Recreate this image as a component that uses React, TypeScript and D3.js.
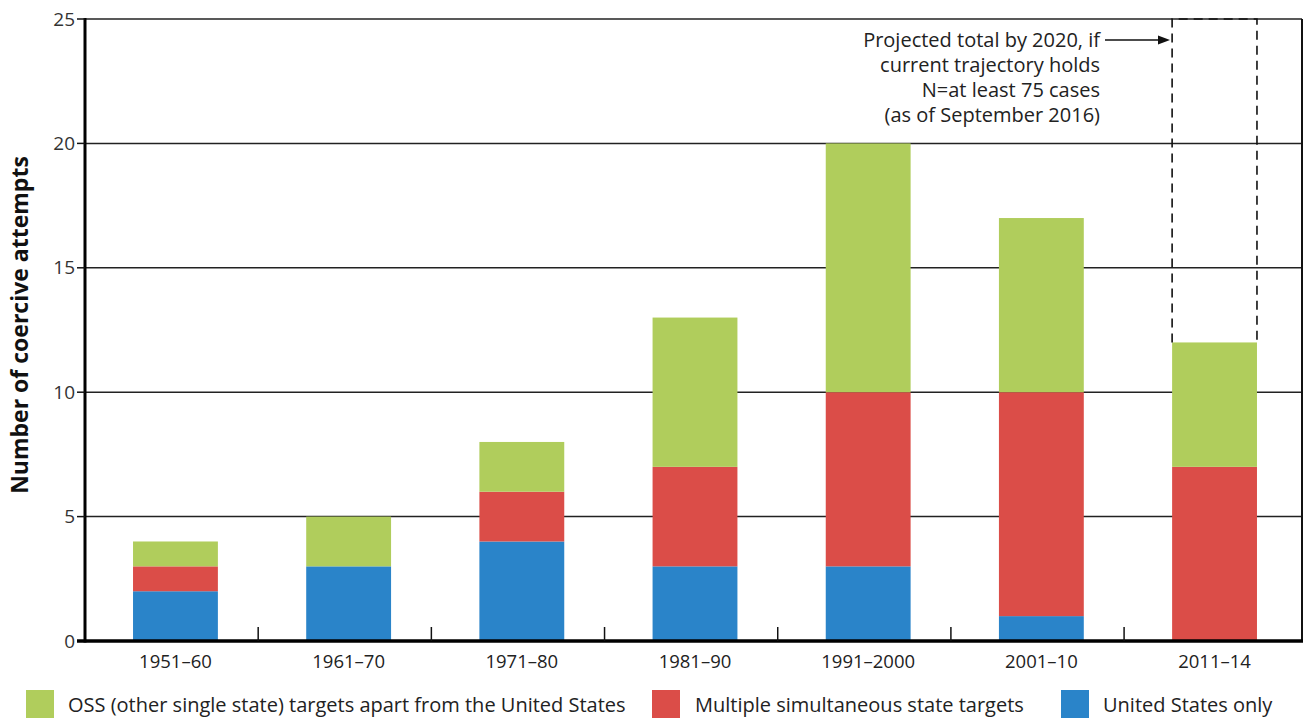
import React from "react";
import * as d3 from "d3";

const categories = ["1951–60", "1961–70", "1971–80", "1981–90", "1991–2000", "2001–10", "2011–14"];
const usOnly = [2, 3, 4, 3, 3, 1, 0];
const multiple = [1, 0, 2, 4, 7, 9, 7];
const oss = [1, 2, 2, 6, 10, 7, 5];
const yTicks = [0, 5, 10, 15, 20, 25];
const seriesNames = ["OSS (other single state) targets apart from the United States", "Multiple simultaneous state targets", "United States only"];
const projectedTotal = 25;
const projectedCategory = "2011–14";
const annotationLines = ["Projected total by 2020, if", "current trajectory holds", "N=at least 75 cases", "(as of September 2016)"];

const COLORS = { us: "#2a84c9", multi: "#db4d48", oss: "#b0cd5c" };
const FONT = "'Open Sans', 'Noto Sans', sans-serif";

export default function App() {
  const W = 1315, H = 718;
  const left = 85, right = 1302, top = 19, bottom = 641;
  const x = d3.scaleBand<string>().domain(categories).range([left + 3, right]).paddingInner(0.51).paddingOuter(0.26);
  const y = d3.scaleLinear().domain([0, 25]).range([bottom, top]);

  const rows = categories.map((c, i) => ({ cat: c, us: usOnly[i], multi: multiple[i], oss: oss[i] }));
  const stack = d3.stack<any>().keys(["us", "multi", "oss"])(rows);
  const step = x.step();
  const bandStarts = categories.map((_, i) => left + i * step);

  const px = x(projectedCategory)!;
  const pTotal = usOnly[6] + multiple[6] + oss[6];

  return (
    <svg width={W} height={H} style={{ display: "block", position: "absolute", left: 0, top: 0 }} fontFamily={FONT}>
      <rect width={W} height={H} fill="#fff" />
      {yTicks.filter(t => t > 0).map(t => (
        <line key={t} x1={left} x2={right} y1={y(t)} y2={y(t)} stroke="#222" strokeWidth={1.5} />
      ))}
      {stack.map(s => (
        <g key={s.key} fill={(COLORS as any)[s.key]}>
          {s.map((d, i) => d[1] - d[0] > 0 ? (
            <rect key={i} x={x(categories[i])} width={x.bandwidth()} y={y(d[1])} height={y(d[0]) - y(d[1])} />
          ) : null)}
        </g>
      ))}
      <path d={`M${px},${y(pTotal)} V${y(projectedTotal)} H${px + x.bandwidth()} V${y(pTotal)}`}
        fill="none" stroke="#111" strokeWidth={1.6} strokeDasharray="9,6" />
      {annotationLines.map((t, i) => (
        <text key={i} x={1100} y={47 + i * 25} textAnchor="end" fontSize={20} fill="#222">{t}</text>
      ))}
      <line x1={1105} x2={1162} y1={40} y2={40} stroke="#111" strokeWidth={1.5} />
      <path d="M1170,40 L1158,35.5 L1158,44.5 Z" fill="#111" />
      <line x1={right} x2={right} y1={top} y2={bottom} stroke="#111" strokeWidth={2} />
      <line x1={left} x2={left} y1={top - 1} y2={bottom + 1.5} stroke="#000" strokeWidth={3} />
      {yTicks.map(t => (
        <g key={t}>
          <line x1={left - 8} x2={left} y1={y(t)} y2={y(t)} stroke="#111" strokeWidth={1.5} />
          <text x={left - 10} y={y(t) + 6.5} textAnchor="end" fontSize={19} fill="#333">{t}</text>
        </g>
      ))}
      <line x1={left - 8} x2={right + 1} y1={bottom} y2={bottom} stroke="#000" strokeWidth={3.5} />
      {bandStarts.slice(1).map((bx, i) => (
        <line key={i} x1={bx} x2={bx} y1={bottom - 14} y2={bottom} stroke="#111" strokeWidth={1.5} />
      ))}
      {categories.map(c => (
        <text key={c} x={x(c)! + x.bandwidth() / 2} y={668} textAnchor="middle" fontSize={18.5} fill="#222">{c}</text>
      ))}
      <text transform={`translate(28,325) rotate(-90)`} textAnchor="middle" fontSize={23} fontWeight="bold" fill="#111">
        Number of coercive attempts
      </text>
      {[
        { x: 26, tx: 68, c: COLORS.oss, label: seriesNames[0] },
        { x: 652, tx: 695, c: COLORS.multi, label: seriesNames[1] },
        { x: 1061, tx: 1103, c: COLORS.us, label: seriesNames[2] },
      ].map((l, i) => (
        <g key={i}>
          <rect x={l.x} y={690} width={28} height={28} fill={l.c} />
          <text x={l.tx} y={712} fontSize={20} fill="#222">{l.label}</text>
        </g>
      ))}
    </svg>
  );
}
